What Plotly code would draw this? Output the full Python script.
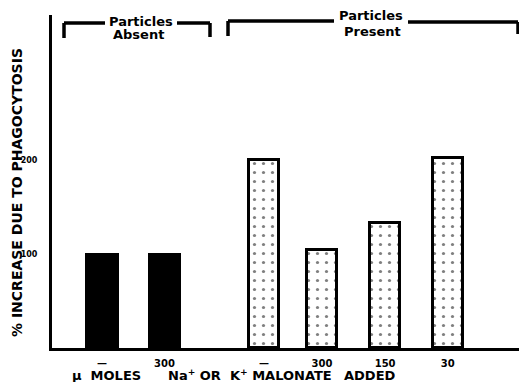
import plotly.graph_objects as go

# ---- data ----
groups = ["absent", "absent", "present", "present", "present", "present"]
positions = [0, 1, 2.59, 3.52, 4.53, 5.53]
values = [100, 100, 200, 104, 133, 202]
tick_labels = ["—", "300", "—", "300", "150", "30"]
y_ticks = [100, 200]
y_tick_labels = ["100", "200"]

W, H = 519, 382
L, R, T, B = 52, 0, 15, 34
PW, PH = W - L - R, H - T - B

def px(xp):
    return (xp - L) / PW

def py(yp):
    return (H - B - yp) / PH

FONT = "DejaVu Sans"

fig = go.Figure()

abs_x = [p for p, g in zip(positions, groups) if g == "absent"]
abs_y = [v for v, g in zip(values, groups) if g == "absent"]
pre_x = [p for p, g in zip(positions, groups) if g == "present"]
pre_y = [v for v, g in zip(values, groups) if g == "present"]

fig.add_trace(go.Bar(x=abs_x, y=abs_y, width=0.5,
                     marker=dict(color="black", line=dict(color="black", width=2))))
fig.add_trace(go.Bar(x=pre_x, y=pre_y, width=0.48,
                     marker=dict(color="white",
                                 line=dict(color="black", width=3),
                                 pattern=dict(shape=".", fgcolor="black", bgcolor="white",
                                              size=9, solidity=0.1))))

fig.update_layout(
    width=W, height=H,
    margin=dict(l=L, r=R, t=T, b=B, autoexpand=False),
    paper_bgcolor="white", plot_bgcolor="white",
    showlegend=False,
    bargap=0,
    font=dict(family=FONT, color="black"),
    xaxis=dict(range=[-0.8, -0.8 + PW / 62.5], tickmode="array",
               tickvals=positions, ticktext=tick_labels,
               tickfont=dict(size=10, family=FONT, weight="bold"),
               showline=True, linecolor="black", linewidth=3,
               showgrid=False, zeroline=False, ticks="", ticklabelstandoff=4,
               automargin=False),
    yaxis=dict(range=[0, 354], tickmode="array", tickvals=y_ticks,
               ticktext=y_tick_labels,
               tickfont=dict(size=8, family=FONT, weight="bold"),
               showline=True, linecolor="black", linewidth=3,
               showgrid=False, zeroline=False, ticks="", ticklabelstandoff=10,
               automargin=False),
)

def label(x, y, text, size, angle=0):
    fig.add_annotation(xref="paper", yref="paper", x=px(x), y=py(y), text=text,
                       textangle=angle, showarrow=False,
                       font=dict(size=size, family=FONT, weight="bold"),
                       xanchor="center", yanchor="middle")

# y-axis title
label(17, 193, "% INCREASE DUE TO PHAGOCYTOSIS", 14, -90)

# x-axis title (three word groups)
label(106, 375, "µ  MOLES", 13)
label(250, 375, "Na<sup>+</sup> OR  K<sup>+</sup> MALONATE", 13)
label(370, 375, "ADDED", 13)

# brackets
line = dict(color="black", width=3.5)
def seg(x0, y0, x1, y1):
    fig.add_shape(type="line", xref="paper", yref="paper",
                  x0=px(x0), y0=py(y0), x1=px(x1), y1=py(y1), line=line)

# Particles Absent
seg(64, 38, 64, 23)
seg(64, 23, 105, 23)
seg(177, 23, 210, 23)
seg(210, 23, 210, 37)
label(141, 21, "Particles", 13)
label(138, 35, "Absent", 13)

# Particles Present
seg(228, 36, 228, 21)
seg(228, 21, 334, 21)
seg(408, 22, 518, 22)
seg(518, 22, 518, 34)
label(371, 15, "Particles", 13)
label(372, 32, "Present", 13)

fig.write_html("out.html",
               config={"displayModeBar": False},
               post_script="document.body.style.margin='0';document.body.style.overflow='hidden';")
